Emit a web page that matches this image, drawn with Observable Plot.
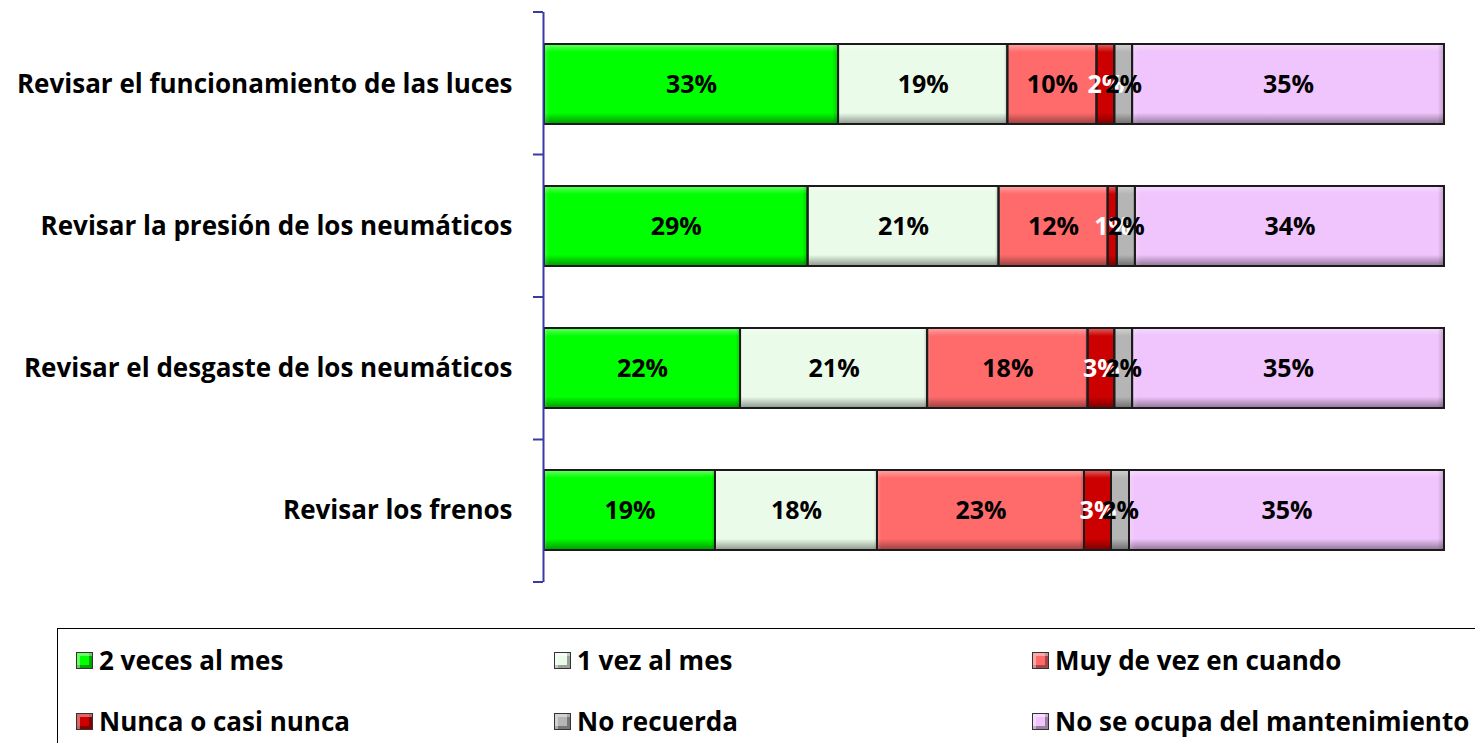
<!DOCTYPE html>
<html>
<head>
<meta charset="utf-8">
<script src="https://cdn.jsdelivr.net/npm/d3@7"></script>
<script src="https://cdn.jsdelivr.net/npm/@observablehq/plot@0.6"></script>
<style>
  html, body { margin: 0; padding: 0; background: #fff; overflow: hidden; width: 1475px; height: 743px; }
  #chart { position: absolute; left: 0; top: 0; }
  #legend { position: absolute; left: 57px; top: 628px; width: 1500px; height: 200px; border: 1px solid #000; box-sizing: border-box; font-family: "Open Sans", sans-serif; font-weight: bold; font-size: 26px; color: #000; }
  .item { position: absolute; display: flex; align-items: center; white-space: nowrap; }
  .sw { width: 17px; height: 17px; border: 1px solid #333; margin-right: 6px; box-sizing: border-box; box-shadow: inset 3px 3px 0 rgba(255,255,255,0.4), inset -3px -3px 0 rgba(0,0,0,0.35); }
</style>
</head>
<body>
<div id="chart"></div>
<div id="legend"></div>
<script>
const categories = [
  "Revisar el funcionamiento de las luces",
  "Revisar la presión de los neumáticos",
  "Revisar el desgaste de los neumáticos",
  "Revisar los frenos"
];
const seriesNames = [
  "2 veces al mes",
  "1 vez al mes",
  "Muy de vez en cuando",
  "Nunca o casi nunca",
  "No recuerda",
  "No se ocupa del mantenimiento"
];
const dosVecesAlMes = [33, 29, 22, 19];
const unaVezAlMes = [19, 21, 21, 18];
const muyDeVezEnCuando = [10, 12, 18, 23];
const nuncaOCasiNunca = [2, 1, 3, 3];
const noRecuerda = [2, 2, 2, 2];
const noSeOcupa = [35, 34, 35, 35];
const seriesColors = ["#00ff00", "#eafbe9", "#ff6b6b", "#cc0000", "#b5b5b5", "#f0c4fc"];
const labelColors = ["#000", "#000", "#000", "#fff", "#000", "#000"];

const seriesValues = [dosVecesAlMes, unaVezAlMes, muyDeVezEnCuando, nuncaOCasiNunca, noRecuerda, noSeOcupa];
const data = [];
categories.forEach((c, i) => {
  seriesNames.forEach((s, j) => {
    data.push({category: c, series: s, value: seriesValues[j][i]});
  });
});

const W = 1475, H = 620;
const FONT = "'Open Sans', sans-serif";
const stackOpts = {x: "value", y: "category", z: "series", offset: "normalize", order: seriesNames};

const plot = Plot.plot({
  width: W,
  height: H,
  marginLeft: 544,
  marginRight: 31,
  marginTop: 12,
  marginBottom: 38,
  style: {fontFamily: FONT, background: "transparent", overflow: "visible"},
  x: {axis: null, domain: [0, 1]},
  y: {domain: categories, paddingInner: 0.44, paddingOuter: 0.22, axis: null},
  color: {domain: seriesNames, range: seriesColors},
  marks: [
    Plot.barX(data, Plot.stackX({...stackOpts, fill: "series"})),
    Plot.barX(data, Plot.stackX({...stackOpts, fill: "url(#bevelV)"})),
    Plot.barX(data, Plot.stackX({...stackOpts, fill: "url(#bevelH)", stroke: "#1b1b1b", strokeWidth: 2})),
    Plot.text(data, Plot.stackX({...stackOpts, text: d => d.value + "%", fill: d => labelColors[seriesNames.indexOf(d.series)], fontSize: 25, fontWeight: "bold"})),
    Plot.text(categories, {y: d => d, x: 0, dx: -32, textAnchor: "end", text: d => d, fontSize: 26, fontWeight: "bold", fill: "#000"}),
    Plot.ruleX([0], {stroke: "#3a3aa6", strokeWidth: 2, dx: -1})
  ]
});

// bevel gradients
const svg = d3.select(plot);
const defs = svg.insert("defs", ":first-child");
const gv = defs.append("linearGradient").attr("id", "bevelV").attr("x1", 0).attr("y1", 0).attr("x2", 0).attr("y2", 1);
gv.append("stop").attr("offset", "0%").attr("stop-color", "#fff").attr("stop-opacity", 0.4);
gv.append("stop").attr("offset", "10%").attr("stop-color", "#fff").attr("stop-opacity", 0);
gv.append("stop").attr("offset", "86%").attr("stop-color", "#000").attr("stop-opacity", 0);
gv.append("stop").attr("offset", "100%").attr("stop-color", "#000").attr("stop-opacity", 0.4);
const gh = defs.append("linearGradient").attr("id", "bevelH").attr("x1", 0).attr("y1", 0).attr("x2", 1).attr("y2", 0);
gh.append("stop").attr("offset", "0%").attr("stop-color", "#fff").attr("stop-opacity", 0.2);
gh.append("stop").attr("offset", "2%").attr("stop-color", "#fff").attr("stop-opacity", 0);
gh.append("stop").attr("offset", "98%").attr("stop-color", "#000").attr("stop-opacity", 0);
gh.append("stop").attr("offset", "100%").attr("stop-color", "#000").attr("stop-opacity", 0.2);

// axis ticks at category boundaries, from the plot's own y scale
const ys = plot.scale("y");
const xs = plot.scale("x");
const yScale = d3.scaleBand().domain(ys.domain).range(ys.range).paddingInner(ys.paddingInner).paddingOuter(ys.paddingOuter);
const step = yScale.step();
const x0 = xs.apply ? xs.apply(0) : 544;
const bounds = categories.map(c => yScale(c) + yScale.bandwidth() / 2 - step / 2);
bounds.push(yScale(categories[categories.length - 1]) + yScale.bandwidth() / 2 + step / 2);
svg.append("g").selectAll("line").data(bounds).join("line")
  .attr("x1", x0 - 11).attr("x2", x0 - 1)
  .attr("y1", d => d).attr("y2", d => d)
  .attr("stroke", "#3a3aa6").attr("stroke-width", 2);

document.getElementById("chart").appendChild(plot);

// legend
const legend = document.getElementById("legend");
const colX = [18, 496, 974];
const rowY = [31, 92];
seriesNames.forEach((s, i) => {
  const it = document.createElement("div");
  it.className = "item";
  it.style.left = colX[i % 3] + "px";
  it.style.top = (rowY[Math.floor(i / 3)] - 18) + "px";
  it.style.height = "36px";
  const sw = document.createElement("div");
  sw.className = "sw";
  sw.style.background = seriesColors[i];
  const tx = document.createElement("span");
  tx.textContent = s;
  it.appendChild(sw);
  it.appendChild(tx);
  legend.appendChild(it);
});
</script>
</body>
</html>
